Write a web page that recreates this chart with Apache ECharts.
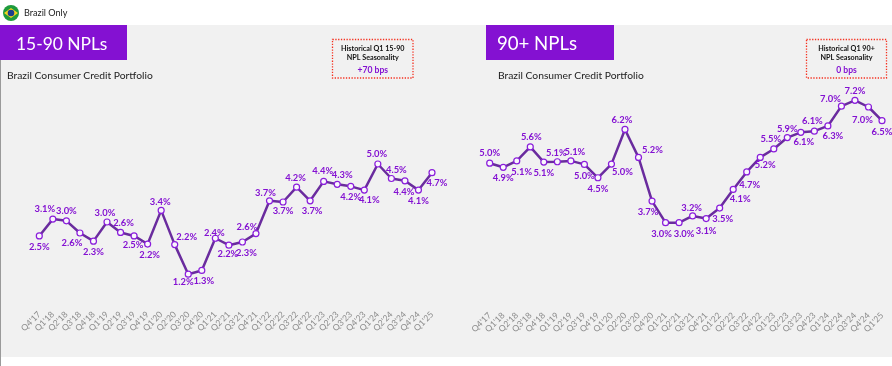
<!DOCTYPE html>
<html>
<head>
<meta charset="utf-8">
<title>Brazil NPLs</title>
<script src="https://cdn.jsdelivr.net/npm/echarts@6/dist/echarts.min.js"></script>
<style>
  html, body { margin: 0; padding: 0; background: #fff; }
  #chart { width: 892px; height: 366px; }
</style>
</head>
<body>
<div id="chart"></div>
<script>
const quarters = ["Q4'17", "Q1'18", "Q2'18", "Q3'18", "Q4'18", "Q1'19", "Q2'19", "Q3'19", "Q4'19", "Q1'20",
  "Q2'20", "Q3'20", "Q4'20", "Q1'21", "Q2'21", "Q3'21", "Q4'21", "Q1'22", "Q2'22", "Q3'22",
  "Q4'22", "Q1'23", "Q2'23", "Q3'23", "Q4'23", "Q1'24", "Q2'24", "Q3'24", "Q4'24", "Q1'25"]

// values, labels round to what the picture prints
const npl1590 = [2.52, 3.10, 3.04, 2.62, 2.34, 3.00, 2.64, 2.52, 2.24, 3.40,
  2.22, 1.20, 1.33, 2.44, 2.20, 2.31, 2.60, 3.73, 3.69, 4.20,
  3.73, 4.40, 4.30, 4.23, 4.10, 5.00, 4.50, 4.42, 4.10, 4.70]
const npl90 = [5.04, 4.90, 5.12, 5.60, 5.08, 5.09, 5.12, 5.00, 4.54, 5.01,
  6.20, 5.24, 3.74, 3.00, 3.00, 3.23, 3.14, 3.50, 4.14, 4.74,
  5.24, 5.53, 5.92, 6.10, 6.14, 6.32, 7.00, 7.20, 6.97, 6.50]

// label nudges so they sit where the slide has them
const offsets1590 = [[0, 11], [-8, -10], [0, -10], [-8, 10], [0, 11], [-2, -9], [3, -9], [-1, 9], [2, 11], [-1, -8],
  [12, -8], [-5, 8], [2, 11], [-1, -5], [-1, 9], [4, 11], [-9, -7], [-4, -8], [0, 9], [-1, -9],
  [2, 10], [-1, -10], [5, -9], [0, 11], [5, 10], [-1, -10], [5, -9], [-1, 11], [0, 11], [5, 10]]
const offsets90 = [[0, -10], [0, 11], [5, 11], [1, -10], [0, 11], [-1, -9], [4, -9], [0, 12], [0, 11], [11, 8],
  [-3, -9], [14, -7], [-4, 11], [-4, 11], [5, 11], [-1, -8], [0, 12], [3, 11], [7, 10], [3, 13],
  [5, 8], [-3, -10], [0, -9], [3, 10], [-2, -10], [5, 10], [-11, -7], [0, -9], [-6, 13], [0, 11]]

const fontName = 'Lato, "Noto Sans", sans-serif'
const purple = '#8411d2'

function seriesData(values, offsets) {
  return values.map(function (v, i) {
    return {
      value: v,
      label: { offset: offsets[i] }
    }
  })
}

function lineSeries(name, axisIndex, values, offsets) {
  return {
    name: name,
    type: 'line',
    xAxisIndex: axisIndex,
    yAxisIndex: axisIndex,
    data: seriesData(values, offsets),
    symbol: 'circle',
    symbolSize: 6,
    showAllSymbol: true,
    lineStyle: { color: '#6a2c9e', width: 2.5 },
    itemStyle: { color: '#faf7fc', borderColor: '#8a1ddb', borderWidth: 1.2 },
    label: {
      show: true,
      position: 'inside',
      align: 'center',
      verticalAlign: 'middle',
      color: purple,
      fontFamily: fontName,
      fontWeight: 'bold',
      fontSize: 9.4,
      formatter: function (p) { return p.value.toFixed(1) + '%' }
    },
    emphasis: { disabled: true },
    animation: false,
    z: 3
  }
}

function xAxis(gridIndex) {
  return {
    type: 'category',
    gridIndex: gridIndex,
    data: quarters,
    boundaryGap: false,
    axisLine: { show: false },
    axisTick: { show: false },
    splitLine: { show: false },
    axisLabel: {
      interval: 0,
      rotate: 45,
      margin: 4,
      color: '#8c8c8c',
      fontFamily: fontName,
      fontSize: 8.6
    }
  }
}

function yAxis(gridIndex) {
  return { type: 'value', gridIndex: gridIndex, min: 0, max: 8, show: false }
}

function panelText(x, y, text, size, color, weight, align) {
  return {
    type: 'text',
    x: x,
    y: y,
    z: 5,
    style: {
      text: text,
      fill: color,
      fontFamily: fontName,
      fontSize: size,
      fontWeight: weight || 'normal',
      textAlign: align || 'left',
      textVerticalAlign: 'middle'
    }
  }
}

function noteBox(x, w, line1, line2, bps) {
  const cx = x + w / 2
  return [
    {
      type: 'rect', z: 4,
      shape: { x: x, y: 39.5, width: w, height: 38.5 },
      style: { fill: 'none', stroke: '#f5301f', lineWidth: 1.3, lineDash: [1.3, 1.5] }
    },
    panelText(cx, 48.5, line1, 7.2, '#111', 'bold', 'center'),
    panelText(cx, 57.5, line2, 7.2, '#111', 'bold', 'center'),
    panelText(cx, 70.5, bps, 8.6, purple, 'bold', 'center')
  ]
}

const decorations = [
  { type: 'rect', z: 0, shape: { x: 0, y: 25, width: 892, height: 332 }, style: { fill: '#f1f1f1' } },
  { type: 'rect', z: 1, shape: { x: 0, y: 25, width: 1, height: 341 }, style: { fill: '#9a9a9a' } },
  // flag
  { type: 'circle', z: 4, shape: { cx: 11, cy: 13, r: 8 }, style: { fill: '#1f9b3d' } },
  { type: 'polygon', z: 5, shape: { points: [[4, 13], [11, 8], [18, 13], [11, 18]] }, style: { fill: '#f4d51f' } },
  { type: 'circle', z: 6, shape: { cx: 11, cy: 13, r: 3.3 }, style: { fill: '#1d3f8c' } },
  panelText(24, 13.5, 'Brazil Only', 9.1, '#222'),
  // header tabs
  { type: 'rect', z: 2, shape: { x: 0, y: 25, width: 127, height: 35 }, style: { fill: purple } },
  { type: 'rect', z: 2, shape: { x: 486, y: 25, width: 128, height: 35 }, style: { fill: purple } },
  panelText(16, 44, '15-90 NPLs', 17.4, '#fff'),
  panelText(497, 44, '90+ NPLs', 18.6, '#fff'),
  panelText(7, 76, 'Brazil Consumer Credit Portfolio', 10.3, '#222'),
  panelText(498, 76, 'Brazil Consumer Credit Portfolio', 10.3, '#222')
].concat(
  noteBox(332.5, 80.5, 'Historical Q1 15-90', 'NPL Seasonality', '+70 bps'),
  noteBox(806.5, 80, 'Historical Q1 90+', 'NPL Seasonality', '0 bps')
)

const chart = echarts.init(document.getElementById('chart'), null, { renderer: 'canvas' })
chart.setOption({
  animation: false,
  grid: [
    { left: 39.3, top: 77, width: 392.7, height: 232 },
    { left: 489.7, top: 77, width: 392.3, height: 233 }
  ],
  xAxis: [xAxis(0), xAxis(1)],
  yAxis: [yAxis(0), yAxis(1)],
  graphic: { elements: decorations },
  series: [
    lineSeries('15-90 NPLs', 0, npl1590, offsets1590),
    lineSeries('90+ NPLs', 1, npl90, offsets90)
  ]
})
</script>
</body>
</html>
